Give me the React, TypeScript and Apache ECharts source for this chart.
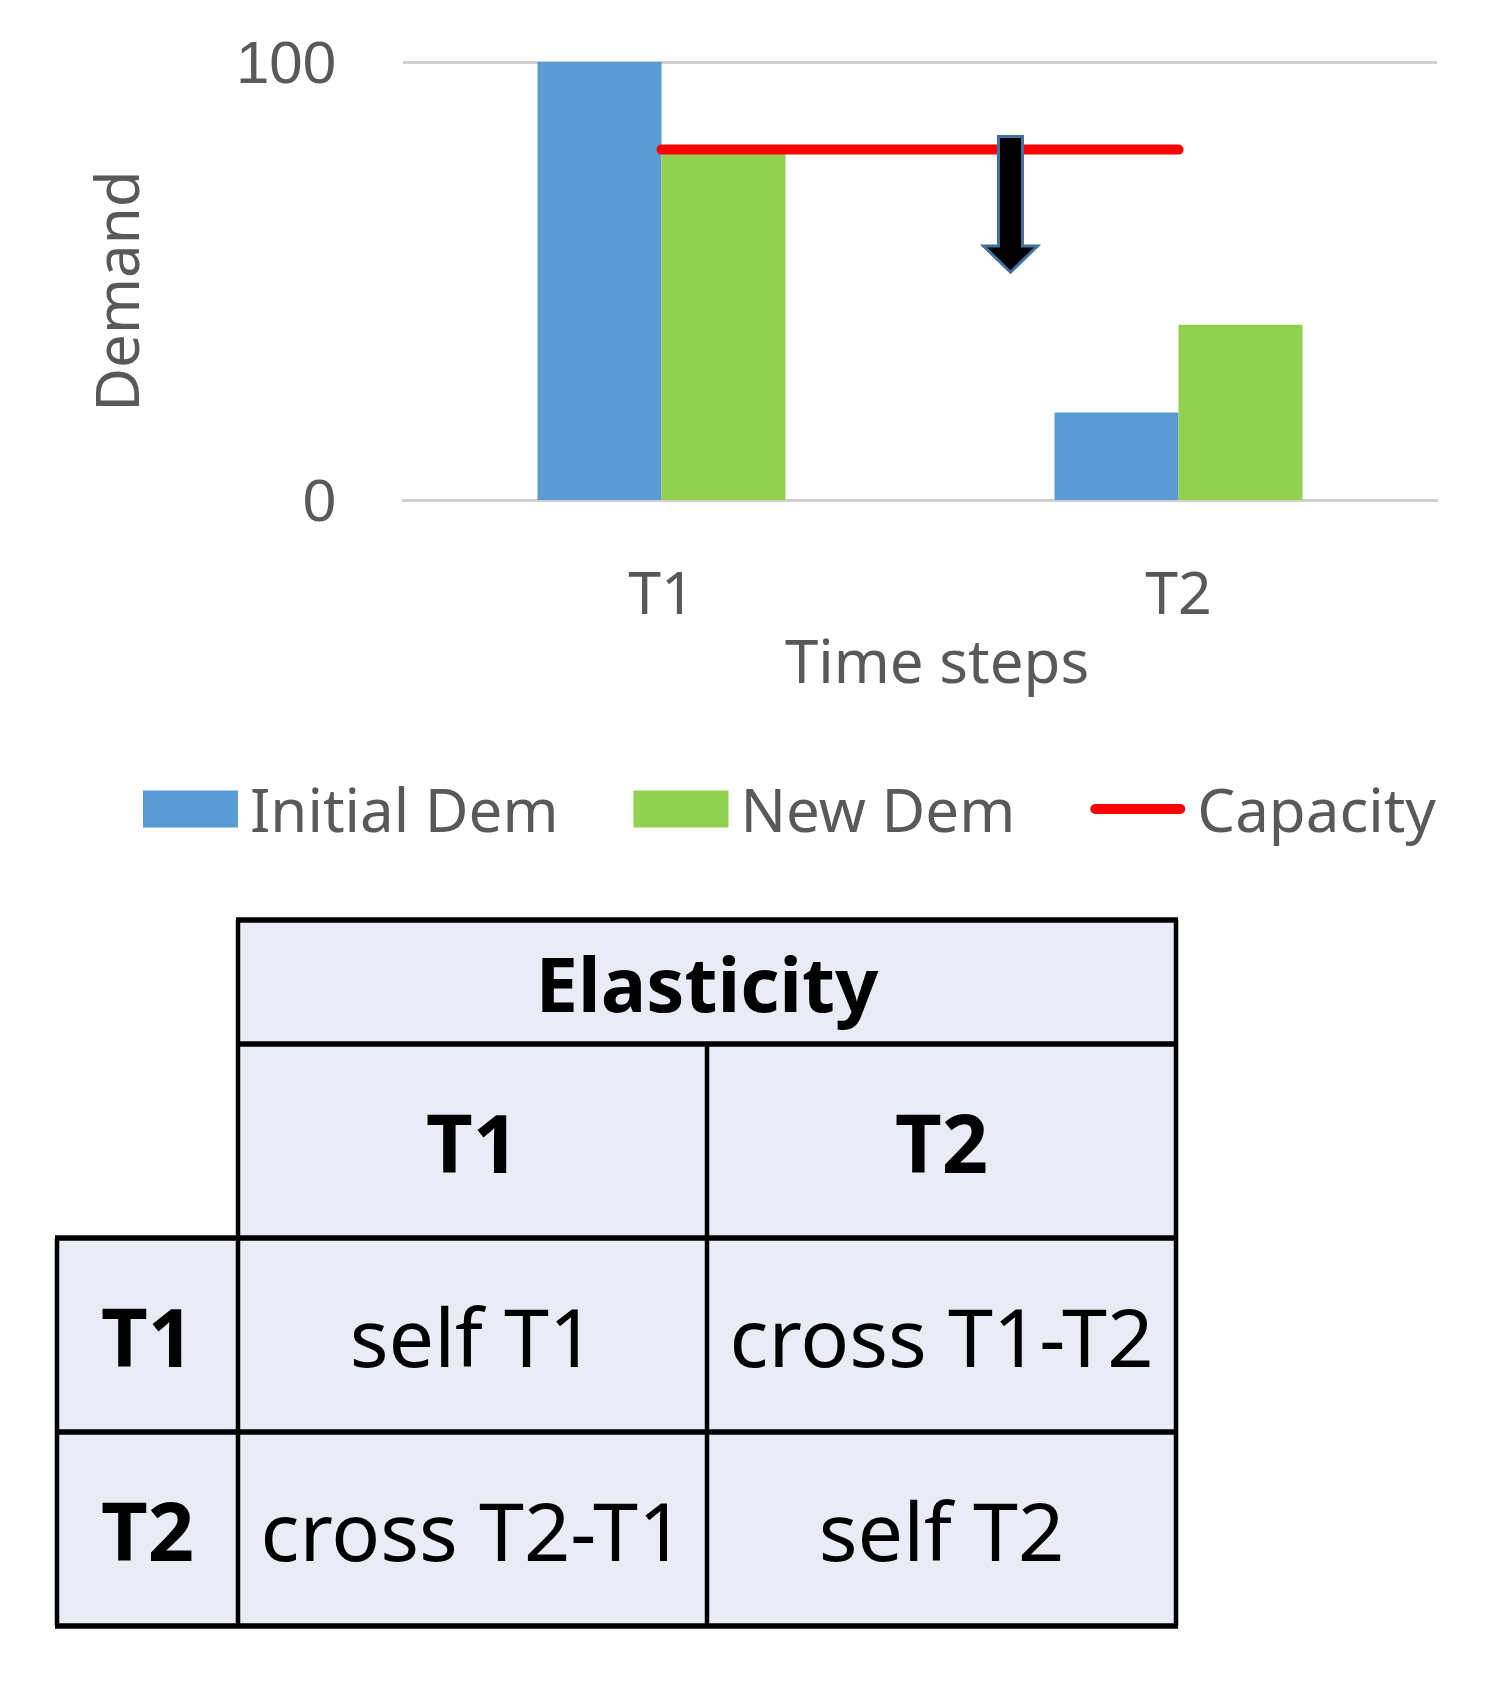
import React, { useEffect, useRef } from "react";
import * as echarts from "echarts";

// ---------- data ----------
const categories = ["T1", "T2"];
const seriesNames = ["Initial Dem", "New Dem", "Capacity"];
const initialDem = [100, 20];
const newDem = [79, 40];
const capacity = [80, 80];
const yMin = 0;
const yMax = 100;

// annotation arrow (in data units): position between T1 and T2, top / head start / tip values
const arrowAt = 0.675;
const arrowTop = 83;
const arrowHeadStart = 58;
const arrowTip = 52;

// elasticity table
const tableTitle = "Elasticity";
const colLabels = ["T1", "T2"];
const rowLabels = ["T1", "T2"];
const cellValues = [
  ["self T1", "cross T1-T2"],
  ["cross T2-T1", "self T2"],
];

export default function App() {
  const ref = useRef<HTMLDivElement>(null);

  useEffect(() => {
    const el = ref.current;
    if (!el) return;
    const chart = echarts.init(el, null, { renderer: "svg" });
    const gray = "#595959";
    const font = "Noto Sans";
    const axisGray = "#d0d0d0";

    // ----- table layout -----
    const xs = [57, 238, 707, 1176];
    const ys = [920, 1044, 1238, 1432, 1626];
    const fill = "#e9ecf5";
    const hW = 5.5;
    const vW = 4.5;
    const tableEls: any[] = [];
    tableEls.push({ type: "rect", shape: { x: xs[1], y: ys[0], width: xs[3] - xs[1], height: ys[4] - ys[0] }, style: { fill } });
    tableEls.push({ type: "rect", shape: { x: xs[0], y: ys[2], width: xs[1] - xs[0], height: ys[4] - ys[2] }, style: { fill } });
    const hLine = (y: number, x1: number, x2: number) => ({ type: "line", shape: { x1, y1: y, x2, y2: y }, style: { stroke: "#000", lineWidth: hW } });
    const vLine = (x: number, y1: number, y2: number) => ({ type: "line", shape: { x1: x, y1, x2: x, y2 }, style: { stroke: "#000", lineWidth: vW } });
    tableEls.push(hLine(ys[0], xs[1] - 2, xs[3] + 2));
    tableEls.push(hLine(ys[1], xs[1] - 2, xs[3] + 2));
    tableEls.push(hLine(ys[2], xs[0] - 2, xs[3] + 2));
    tableEls.push(hLine(ys[3], xs[0] - 2, xs[3] + 2));
    tableEls.push(hLine(ys[4], xs[0] - 2, xs[3] + 2));
    tableEls.push(vLine(xs[1], ys[0], ys[4]));
    tableEls.push(vLine(xs[3], ys[0], ys[4]));
    tableEls.push(vLine(xs[2], ys[1], ys[4]));
    tableEls.push(vLine(xs[0], ys[2], ys[4]));

    const txt = (text: string, x: number, y: number, bold: boolean, size: number) => ({
      type: "text",
      x,
      y,
      style: {
        text,
        fill: "#000",
        fontSize: size,
        fontWeight: bold ? "bold" : "normal",
        fontFamily: font,
        align: "center",
        verticalAlign: "middle",
        textAlign: "center",
        textVerticalAlign: "middle",
      },
    });
    const cx = (i: number) => (xs[i] + xs[i + 1]) / 2;
    const cy = (j: number) => (ys[j] + ys[j + 1]) / 2;
    tableEls.push(txt(tableTitle, (xs[1] + xs[3]) / 2, cy(0), true, 76));
    colLabels.forEach((c, i) => tableEls.push(txt(c, cx(i + 1), cy(1), true, 81)));
    rowLabels.forEach((r, j) => tableEls.push(txt(r, cx(0), cy(j + 2), true, 81)));
    cellValues.forEach((row, j) =>
      row.forEach((v, i) => tableEls.push(txt(v, cx(i + 1), cy(j + 2), false, 81)))
    );

    const option: any = {
      animation: false,
      backgroundColor: "#ffffff",
      grid: { left: 403, top: 62, width: 1034, height: 438, containLabel: false },
      legend: {
        left: 143,
        top: 779,
        padding: 0,
        itemWidth: 95,
        itemHeight: 37,
        itemGap: 75,
        selectedMode: false,
        textStyle: { color: gray, fontSize: 60, fontFamily: font, lineHeight: 60, padding: [0, 0, 0, 7] },
        data: [
          { name: seriesNames[0], icon: "rect" },
          { name: seriesNames[1], icon: "rect" },
          {
            name: seriesNames[2],
            icon: "path://M5,0H90A5,5 0 0 1 90,10H5A5,5 0 0 1 5,0Z",
            itemStyle: { color: "#ff0000", borderWidth: 0 },
          },
        ],
      },
      xAxis: {
        type: "category",
        data: categories,
        boundaryGap: true,
        axisLine: { show: true, lineStyle: { color: axisGray, width: 3 } },
        axisTick: { show: false },
        axisLabel: { color: gray, fontSize: 59, fontFamily: font, margin: 61 },
        name: "Time steps",
        nameLocation: "middle",
        nameGap: 130,
        nameTextStyle: { color: gray, fontSize: 60, fontFamily: font, padding: [0, 0, 0, 34] },
      },
      yAxis: {
        type: "value",
        min: yMin,
        max: yMax,
        interval: 100,
        axisLine: { show: false },
        axisTick: { show: false },
        splitLine: { show: true, lineStyle: { color: axisGray, width: 3 } },
        axisLabel: { color: gray, fontSize: 60, fontFamily: "Liberation Sans", margin: 67 },
        name: "Demand",
        nameLocation: "middle",
        nameGap: 257,
        nameRotate: 90,
        nameTextStyle: { color: gray, fontSize: 60, fontFamily: font, padding: [0, 20, 0, 0] },
      },
      series: [
        {
          name: seriesNames[0],
          type: "bar",
          data: initialDem,
          barWidth: 124,
          barGap: "0%",
          itemStyle: { color: "#5b9bd5" },
        },
        {
          name: seriesNames[1],
          type: "bar",
          data: newDem,
          barWidth: 124,
          barGap: "0%",
          itemStyle: { color: "#92d050" },
        },
        {
          name: seriesNames[2],
          type: "line",
          data: capacity,
          symbol: "none",
          showSymbol: false,
          z: 5,
          lineStyle: { color: "#ff0000", width: 10, cap: "round" },
          itemStyle: { color: "#ff0000" },
        },
      ],
      graphic: { elements: tableEls },
    };
    chart.setOption(option);

    // arrow annotation positioned via the chart's own scales
    const p1 = chart.convertToPixel({ xAxisIndex: 0 }, categories[0]) as number;
    const p2 = chart.convertToPixel({ xAxisIndex: 0 }, categories[1]) as number;
    const ax = p1 + (p2 - p1) * arrowAt;
    const yT = chart.convertToPixel({ yAxisIndex: 0 }, arrowTop) as number;
    const yH = chart.convertToPixel({ yAxisIndex: 0 }, arrowHeadStart) as number;
    const yP = chart.convertToPixel({ yAxisIndex: 0 }, arrowTip) as number;
    const sw = 12;
    const hw = 27;
    const arrow = {
      type: "polygon",
      z: 100,
      shape: {
        points: [
          [ax - sw, yT],
          [ax + sw, yT],
          [ax + sw, yH],
          [ax + hw, yH],
          [ax, yP],
          [ax - hw, yH],
          [ax - sw, yH],
        ],
      },
      style: { fill: "#000000", stroke: "#41719c", lineWidth: 3 },
    };
    chart.setOption({ graphic: { elements: [...tableEls, arrow] } });

    return () => chart.dispose();
  }, []);

  return (
    <div
      ref={ref}
      style={{ position: "absolute", left: 0, top: 0, width: 1499, height: 1684 }}
    />
  );
}
